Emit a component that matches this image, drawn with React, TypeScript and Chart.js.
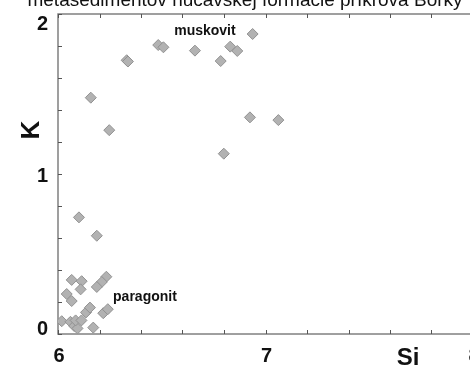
import React, { useEffect, useRef } from 'react';
import { Chart, registerables } from 'chart.js';

Chart.register(...registerables);

// ---- data ----
const siValues = [
  6.158, 6.247, 6.331, 6.337, 6.483, 6.508, 6.66, 6.784, 6.83, 6.864, 6.938, 6.925, 7.062, 6.799,
  6.101, 6.187, 6.066, 6.114, 6.109, 6.042, 6.066, 6.233, 6.211, 6.187,
  6.018, 6.06, 6.078, 6.094, 6.085, 6.113, 6.135, 6.154, 6.17, 6.218, 6.24,
];
const kValues = [
  1.477, 1.274, 1.711, 1.703, 1.806, 1.792, 1.771, 1.706, 1.796, 1.769, 1.875, 1.354, 1.337, 1.127,
  0.729, 0.614, 0.338, 0.33, 0.279, 0.25, 0.206, 0.358, 0.325, 0.294,
  0.08, 0.076, 0.05, 0.035, 0.085, 0.085, 0.135, 0.165, 0.04, 0.13, 0.155,
];
const xTickLabels = ['6', '7', '8'];
const yTickLabels = ['0', '1', '2'];
const titleText = 'metasedimentov hučavskej formácie príkrova Bôrky';
const xAxisTitle = 'Si';
const yAxisTitle = 'K';
const groupNames = ['muskovit', 'paragonit'];
const groupSi = [6.708, 6.419];
const groupK = [1.894, 0.231];

const FONT = '"Liberation Sans", Arial, sans-serif';

const decorPlugin = {
  id: 'decor',
  beforeDatasetsDraw(chart: any) {
    const { ctx, chartArea: a, scales } = chart;
    const x = scales.x;
    const y = scales.y;
    ctx.save();
    ctx.strokeStyle = '#808080';
    ctx.lineWidth = 1.5;
    ctx.strokeRect(a.left, a.top, a.right - a.left, a.bottom - a.top);
    ctx.strokeStyle = '#555';
    ctx.lineWidth = 1;
    ctx.beginPath();
    x.ticks.forEach((t: any) => {
      const px = Math.round(x.getPixelForValue(t.value)) + 0.5;
      ctx.moveTo(px, a.bottom);
      ctx.lineTo(px, a.bottom - 4);
      ctx.moveTo(px, a.top);
      ctx.lineTo(px, a.top + 4);
    });
    y.ticks.forEach((t: any) => {
      const py = Math.round(y.getPixelForValue(t.value)) + 0.5;
      ctx.moveTo(a.left, py);
      ctx.lineTo(a.left + 4, py);
    });
    ctx.stroke();
    ctx.restore();
  },
  afterDraw(chart: any) {
    const { ctx, chartArea: a, scales } = chart;
    const x = scales.x;
    const y = scales.y;
    ctx.save();
    ctx.fillStyle = '#111';

    // title (partly cut off at the top)
    ctx.font = `normal 19px ${FONT}`;
    ctx.textAlign = 'center';
    ctx.textBaseline = 'alphabetic';
    ctx.fillText(titleText, 245, 6);

    // x tick labels
    ctx.font = `bold 20px ${FONT}`;
    xTickLabels.forEach((lab) => {
      const px = x.getPixelForValue(Number(lab));
      ctx.fillText(lab, px + 1, 362);
    });

    // y tick labels
    ctx.textAlign = 'right';
    yTickLabels.forEach((lab) => {
      const v = Number(lab);
      const py = y.getPixelForValue(v);
      let base = py + 8;
      if (v === y.max) base = a.top + 16;
      if (v === y.min) base = a.bottom + 1;
      ctx.fillText(lab, 48, base);
    });

    // axis titles
    ctx.textAlign = 'center';
    ctx.font = `bold 24px ${FONT}`;
    ctx.fillText(xAxisTitle, 408, 365);
    ctx.save();
    ctx.translate(32, 130);
    ctx.rotate(-Math.PI / 2);
    ctx.font = `bold 26px ${FONT}`;
    ctx.textBaseline = 'middle';
    ctx.fillText(yAxisTitle, 0, 0);
    ctx.restore();

    // group labels
    ctx.font = `bold 14px ${FONT}`;
    ctx.textBaseline = 'middle';
    groupNames.forEach((name, i) => {
      ctx.fillText(name, x.getPixelForValue(groupSi[i]), y.getPixelForValue(groupK[i]));
    });
    ctx.restore();
  },
};

export default function App() {
  const ref = useRef<HTMLCanvasElement | null>(null);
  useEffect(() => {
    if (!ref.current) return;
    const points = siValues.map((s, i) => ({ x: s, y: kValues[i] }));
    const chart = new Chart(ref.current, {
      type: 'scatter',
      data: {
        datasets: [
          {
            data: points,
            pointStyle: 'rectRot',
            pointRadius: 5.5,
            pointBackgroundColor: 'rgb(178,178,178)',
            pointBorderColor: 'rgb(145,145,145)',
            pointBorderWidth: 1,
          },
        ],
      },
      options: {
        responsive: false,
        animation: false,
        devicePixelRatio: 1,
        layout: { padding: { top: 14, right: 27, left: 0, bottom: 0 } },
        plugins: { legend: { display: false }, tooltip: { enabled: false }, title: { display: false } },
        scales: {
          x: {
            type: 'linear',
            min: 6,
            max: 8,
            ticks: { stepSize: 0.2, display: false },
            grid: { display: false },
            border: { display: false },
            afterFit: (s: any) => {
              s.height = 33;
            },
          },
          y: {
            type: 'linear',
            min: 0,
            max: 2,
            ticks: { stepSize: 0.2, display: false },
            grid: { display: false },
            border: { display: false },
            afterFit: (s: any) => {
              s.width = 58;
            },
          },
        },
      },
      plugins: [decorPlugin],
    } as any);
    return () => chart.destroy();
  }, []);
  return (
    <div style={{ position: 'absolute', left: 0, top: 0, width: 470, height: 367, overflow: 'hidden', background: '#fff' }}>
      <canvas ref={ref} width={500} height={367} style={{ display: 'block', width: 500, height: 367 }} />
    </div>
  );
}
